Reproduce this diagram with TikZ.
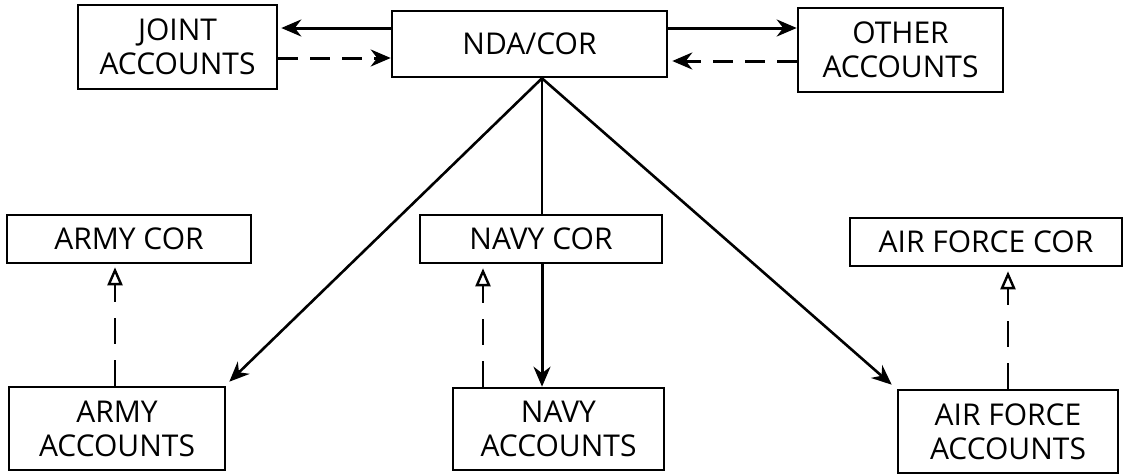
\documentclass[tikz,border=0pt]{standalone}
\usepackage{fontspec}
\setmainfont{Open Sans}
\usetikzlibrary{arrows.meta}
\begin{document}
\begin{tikzpicture}[x=1pt,y=-1pt,
  box/.style={draw,line width=2.6pt,rectangle,inner sep=0pt,align=center,
    font=\fontsize{30}{34}\selectfont},
  tip/.style={-{Stealth[length=20pt,width=17pt]}},
  conn/.style={line width=3pt,tip},
  dconn/.style={line width=3pt,dash pattern=on 20pt off 12pt,tip},
  uconn/.style={line width=2.4pt,dash pattern=on 26pt off 16pt,-{Triangle[open,length=18pt,width=15pt]}}]
\useasboundingbox (0,0) rectangle (1125,474);
\fill[white] (0,0) rectangle (1125,474);
\node[box,minimum width=199pt,minimum height=84pt] (joint) at (177.5,47) {JOINT\\ACCOUNTS};
\node[box,minimum width=275pt,minimum height=66pt] (nda) at (529.5,44) {NDA/COR};
\node[box,minimum width=205pt,minimum height=84pt] (other) at (900.5,50) {OTHER\\ACCOUNTS};
\node[box,minimum width=244pt,minimum height=48pt] (armycor) at (129,239) {ARMY COR};
\node[box,minimum width=242pt,minimum height=48pt] (navycor) at (541,239) {NAVY COR};
\node[box,minimum width=272pt,minimum height=48pt] (afcor) at (986,242) {AIR FORCE COR};
\node[box,minimum width=216pt,minimum height=83pt] (armyacc) at (117,428.5) {ARMY\\ACCOUNTS};
\node[box,minimum width=211pt,minimum height=82pt] (navyacc) at (558.5,429) {NAVY\\ACCOUNTS};
\node[box,minimum width=220pt,minimum height=83pt] (afacc) at (1008,431.5) {AIR FORCE\\ACCOUNTS};
\coordinate (apex) at ([xshift=12.5pt]nda.south);
% top row
\draw[conn] ([yshift=16pt]nda.west) -- ([yshift=19pt,xshift=3pt]joint.east);
\draw[dconn] ([yshift=-11pt]joint.east) -- ([yshift=-14pt]nda.west);
\draw[conn] ([yshift=16pt]nda.east) -- ([yshift=22pt]other.west);
\draw[dconn] ([yshift=-11pt]other.west) -- ([yshift=-17pt,xshift=4pt]nda.east);
% fan out
\draw[line width=2.6pt,tip] (apex) -- ([xshift=3pt,yshift=4pt]armyacc.north east);
\draw[line width=2.6pt,tip] (apex) -- ([xshift=-5pt,yshift=4pt]afacc.north west);
\draw[line width=2.6pt] (apex) -- (apex |- navycor.north);
\draw[conn] (apex |- navycor.south) -- (apex |- navyacc.north);
% dashed up
\draw[uconn] (armyacc.north -| 115,0) -- ([yshift=-3pt]armycor.south -| 115,0);
\draw[uconn] (navyacc.north -| 483,0) -- ([yshift=-4pt]navycor.south -| 483,0);
\draw[uconn] (afacc.north -| 1008,0) -- ([yshift=-4pt]afcor.south -| 1008,0);
\end{tikzpicture}
\end{document}
